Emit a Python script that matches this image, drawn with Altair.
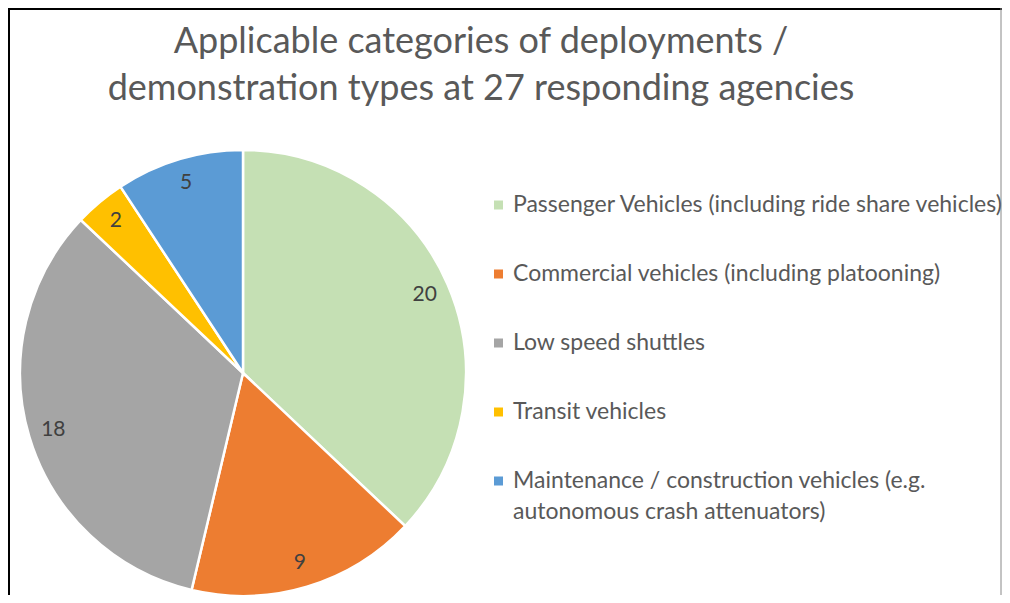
import altair as alt
import pandas as pd

categories = [
    "Passenger Vehicles (including ride share vehicles)",
    "Commercial vehicles (including platooning)",
    "Low speed shuttles",
    "Transit vehicles",
    "Maintenance / construction vehicles (e.g. autonomous crash attenuators)",
]
values = [20, 9, 18, 2, 5]
colors = ["#C5E0B4", "#ED7D31", "#A5A5A5", "#FFC000", "#5B9BD5"]
title_lines = ["Applicable categories of deployments /",
               "demonstration types at 27 responding agencies"]

df = pd.DataFrame({"category": categories, "value": values,
                   "idx": list(range(len(categories)))})

W, H = 994, 587
CX, CY, R = 235, 365, 223

label_expr = ("datum.label == 'Maintenance / construction vehicles (e.g. autonomous crash attenuators)'"
              " ? ['Maintenance / construction vehicles (e.g.', 'autonomous crash attenuators)'] : datum.label")

base = alt.Chart(df).encode(
    theta=alt.Theta("value:Q", stack=True),
    order=alt.Order("idx:Q", sort="ascending"),
)

arcs = base.mark_arc(radius=R, stroke="white", strokeWidth=2.5, x=CX, y=CY).encode(
    color=alt.Color(
        "category:N",
        scale=alt.Scale(domain=categories, range=colors),
        sort=categories,
        legend=alt.Legend(
            title=None, orient="none", legendX=479, legendY=185.5,
            symbolType="square", symbolSize=81, symbolStrokeWidth=0,
            labelFont="Lato", labelFontSize=23, labelColor="#595959",
            labelLimit=700, rowPadding=45, labelOffset=3,
            labelExpr=label_expr,
        ),
    )
)

labels = base.mark_text(radius=198, x=CX, y=CY, font="Lato", fontSize=21,
                        color="#404040").encode(text="value:Q")

title = alt.Chart(pd.DataFrame({"t": [title_lines]})).mark_text(
    font="Lato", fontSize=36, color="#595959", align="center", baseline="alphabetic",
    lineHeight=47,
).encode(x=alt.value(473), y=alt.value(45), text="t")

border = alt.Chart(pd.DataFrame({"k": [0]})).mark_rule(color="black", strokeWidth=2).encode(
    x=alt.value(0), x2=alt.value(W), y=alt.value(1), y2=alt.value(1)
)
left = alt.Chart(pd.DataFrame({"k": [0]})).mark_rule(color="black", strokeWidth=2).encode(
    x=alt.value(1), y=alt.value(0), y2=alt.value(H)
)
right = alt.Chart(pd.DataFrame({"k": [0]})).mark_rule(color="#888888", strokeWidth=1).encode(
    x=alt.value(W - 1), y=alt.value(0), y2=alt.value(H)
)

chart = alt.layer(arcs, labels, title, border, left, right).properties(
    width=W, height=H, padding=0, autosize=alt.AutoSizeParams(type="none"),
).configure_view(stroke=None).configure(
    background="white",
    style={"guide-label": {"lineHeight": 31}},
)

chart.save("out.html", embed_options={"renderer": "svg", "actions": False})
